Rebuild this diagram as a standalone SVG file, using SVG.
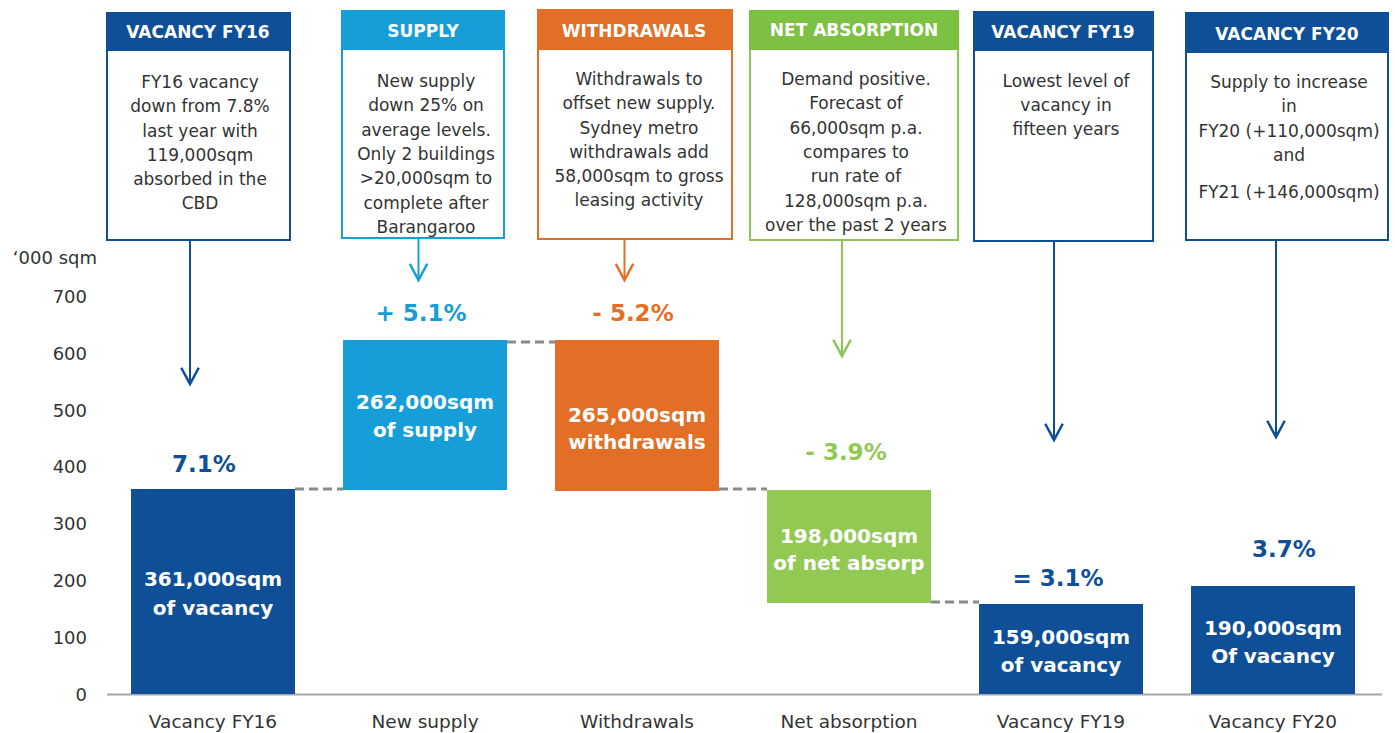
<svg xmlns="http://www.w3.org/2000/svg" width="1395" height="733" viewBox="0 0 1395 733">
<style>
text{font-family:"DejaVu Sans","Noto Sans",sans-serif;}
.hd{font-size:17px;font-weight:bold;fill:#fff;text-anchor:middle;}
.bd{font-size:17px;fill:#333;text-anchor:middle;}
.ax{font-size:18px;fill:#333;text-anchor:end;}
.cat{font-size:18.5px;fill:#333;text-anchor:middle;}
.bt{font-size:20px;font-weight:bold;fill:#fff;text-anchor:middle;}
.pc{font-size:23px;font-weight:bold;text-anchor:middle;}
.dash{stroke:#8a8a8a;stroke-width:3;stroke-dasharray:9 5;fill:none;}
</style>
<defs>
<marker id="mDB" markerUnits="userSpaceOnUse" markerWidth="20" markerHeight="20" refX="8" refY="14" viewBox="0 0 16 16" orient="0"><path d="M1,1 L8,14 L15,1" fill="none" stroke="#0E4F98" stroke-width="2"/></marker>
<marker id="mLB" markerUnits="userSpaceOnUse" markerWidth="20" markerHeight="20" refX="8" refY="14" viewBox="0 0 16 16" orient="0"><path d="M1,1 L8,14 L15,1" fill="none" stroke="#169ED8" stroke-width="2"/></marker>
<marker id="mOR" markerUnits="userSpaceOnUse" markerWidth="20" markerHeight="20" refX="8" refY="14" viewBox="0 0 16 16" orient="0"><path d="M1,1 L8,14 L15,1" fill="none" stroke="#E26F25" stroke-width="2"/></marker>
<marker id="mGR" markerUnits="userSpaceOnUse" markerWidth="20" markerHeight="20" refX="8" refY="14" viewBox="0 0 16 16" orient="0"><path d="M1,1 L8,14 L15,1" fill="none" stroke="#8CC653" stroke-width="2"/></marker>
</defs>
<rect width="1395" height="733" fill="#fff"/>

<g id="axis">
<text x="97" y="264" class="ax">‘000 sqm</text>
<text x="87" y="303" class="ax">700</text>
<text x="87" y="360" class="ax">600</text>
<text x="87" y="417" class="ax">500</text>
<text x="87" y="473" class="ax">400</text>
<text x="87" y="530" class="ax">300</text>
<text x="87" y="587" class="ax">200</text>
<text x="87" y="644" class="ax">100</text>
<text x="87" y="701" class="ax">0</text>
<line x1="107" y1="694.5" x2="1382" y2="694.5" stroke="#a6a6a6" stroke-width="2"/>
</g>

<g id="connectors">
<line x1="190" y1="241" x2="190" y2="384" stroke="#0E4F98" stroke-width="2" marker-end="url(#mDB)"/>
<line x1="418.5" y1="238" x2="418.5" y2="280" stroke="#169ED8" stroke-width="2" marker-end="url(#mLB)"/>
<line x1="624.5" y1="239" x2="624.5" y2="280" stroke="#E26F25" stroke-width="2" marker-end="url(#mOR)"/>
<line x1="842" y1="240" x2="842" y2="356" stroke="#8CC653" stroke-width="2" marker-end="url(#mGR)"/>
<line x1="1054" y1="241" x2="1054" y2="440" stroke="#0E4F98" stroke-width="2" marker-end="url(#mDB)"/>
<line x1="1276" y1="240" x2="1276" y2="437" stroke="#0E4F98" stroke-width="2" marker-end="url(#mDB)"/>
<line x1="295" y1="489" x2="343" y2="489" class="dash"/>
<line x1="507" y1="342" x2="555" y2="342" class="dash"/>
<line x1="719" y1="489" x2="767" y2="489" class="dash"/>
<line x1="931" y1="602" x2="979" y2="602" class="dash"/>
</g>

<g id="box-vacancy-fy16">
<rect x="107" y="13" width="183" height="227" fill="#fff" stroke="#0E4F98" stroke-width="2"/>
<rect x="106" y="12" width="185" height="39" fill="#0E4F98"/>
<text x="198" y="38" class="hd">VACANCY FY16</text>
<text class="bd"><tspan x="200" y="88">FY16 vacancy</tspan><tspan x="200" y="112">down from 7.8%</tspan><tspan x="200" y="137">last year with</tspan><tspan x="200" y="161">119,000sqm</tspan><tspan x="200" y="185">absorbed in the</tspan><tspan x="200" y="209">CBD</tspan></text>
</g>
<g id="box-supply">
<rect x="342" y="11" width="162" height="227" fill="#fff" stroke="#169ED8" stroke-width="2"/>
<rect x="341" y="10" width="164" height="40" fill="#169ED8"/>
<text x="423" y="37" class="hd">SUPPLY</text>
<text class="bd"><tspan x="426" y="87">New supply</tspan><tspan x="426" y="111">down 25% on</tspan><tspan x="426" y="136">average levels.</tspan><tspan x="426" y="160">Only 2 buildings</tspan><tspan x="426" y="184">&gt;20,000sqm to</tspan><tspan x="426" y="209">complete after</tspan><tspan x="426" y="233">Barangaroo</tspan></text>
</g>
<g id="box-withdrawals">
<rect x="538" y="10" width="194" height="229" fill="#fff" stroke="#E26F25" stroke-width="2"/>
<rect x="537" y="9" width="196" height="41" fill="#E26F25"/>
<text x="634" y="37" class="hd">WITHDRAWALS</text>
<text class="bd"><tspan x="639" y="85">Withdrawals to</tspan><tspan x="639" y="109">offset new supply.</tspan><tspan x="639" y="134">Sydney metro</tspan><tspan x="639" y="158">withdrawals add</tspan><tspan x="639" y="182">58,000sqm to gross</tspan><tspan x="639" y="206">leasing activity</tspan></text>
</g>
<g id="box-net-absorption">
<rect x="750" y="11" width="208" height="229" fill="#fff" stroke="#8CC653" stroke-width="2"/>
<rect x="749" y="10" width="210" height="40" fill="#7DC142"/>
<text x="854" y="36" class="hd">NET ABSORPTION</text>
<text class="bd"><tspan x="856" y="85">Demand positive.</tspan><tspan x="856" y="109">Forecast of</tspan><tspan x="856" y="134">66,000sqm p.a.</tspan><tspan x="856" y="158">compares to</tspan><tspan x="856" y="182">run rate of</tspan><tspan x="856" y="207">128,000sqm p.a.</tspan><tspan x="856" y="231">over the past 2 years</tspan></text>
</g>
<g id="box-vacancy-fy19">
<rect x="974" y="12" width="179" height="229" fill="#fff" stroke="#0E4F98" stroke-width="2"/>
<rect x="973" y="11" width="181" height="40" fill="#0E4F98"/>
<text x="1063" y="38" class="hd">VACANCY FY19</text>
<text class="bd"><tspan x="1066" y="87">Lowest level of</tspan><tspan x="1066" y="111">vacancy in</tspan><tspan x="1066" y="135">fifteen years</tspan></text>
</g>
<g id="box-vacancy-fy20">
<rect x="1186" y="13" width="202" height="227" fill="#fff" stroke="#0E4F98" stroke-width="2"/>
<rect x="1185" y="12" width="204" height="41" fill="#0E4F98"/>
<text x="1287" y="40" class="hd">VACANCY FY20</text>
<text class="bd"><tspan x="1289" y="88">Supply to increase</tspan><tspan x="1289" y="112">in</tspan><tspan x="1289" y="137">FY20 (+110,000sqm)</tspan><tspan x="1289" y="161">and</tspan><tspan x="1289" y="198">FY21 (+146,000sqm)</tspan></text>
</g>

<g id="bar-vacancy-fy16">
<rect x="131" y="489" width="164" height="205" fill="#0E4F98"/>
<text x="213" y="586" class="bt">361,000sqm</text>
<text x="213" y="615" class="bt">of vacancy</text>
<text x="204" y="472" class="pc" fill="#0E4F98">7.1%</text>
<text x="213" y="728" class="cat">Vacancy FY16</text>
</g>
<g id="bar-new-supply">
<rect x="343" y="340" width="164" height="150" fill="#169ED8"/>
<text x="425" y="409" class="bt">262,000sqm</text>
<text x="425" y="437" class="bt">of supply</text>
<text x="421" y="321" class="pc" fill="#169ED8">+ 5.1%</text>
<text x="425" y="728" class="cat">New supply</text>
</g>
<g id="bar-withdrawals">
<rect x="555" y="340" width="164" height="151" fill="#E26F25"/>
<text x="637" y="422" class="bt">265,000sqm</text>
<text x="637" y="449" class="bt">withdrawals</text>
<text x="633" y="321" class="pc" fill="#E26F25">- 5.2%</text>
<text x="637" y="728" class="cat">Withdrawals</text>
</g>
<g id="bar-net-absorption">
<rect x="767" y="490" width="164" height="113" fill="#92C953"/>
<text x="849" y="543" class="bt">198,000sqm</text>
<text x="849" y="570" class="bt">of net absorp</text>
<text x="846" y="460" class="pc" fill="#92C953">- 3.9%</text>
<text x="849" y="728" class="cat">Net absorption</text>
</g>
<g id="bar-vacancy-fy19">
<rect x="979" y="604" width="164" height="90" fill="#0E4F98"/>
<text x="1061" y="644" class="bt">159,000sqm</text>
<text x="1061" y="672" class="bt">of vacancy</text>
<text x="1058" y="586" class="pc" fill="#0E4F98">= 3.1%</text>
<text x="1061" y="728" class="cat">Vacancy FY19</text>
</g>
<g id="bar-vacancy-fy20">
<rect x="1191" y="586" width="164" height="108" fill="#0E4F98"/>
<text x="1273" y="635" class="bt">190,000sqm</text>
<text x="1273" y="663" class="bt">Of vacancy</text>
<text x="1284" y="557" class="pc" fill="#0E4F98">3.7%</text>
<text x="1273" y="728" class="cat">Vacancy FY20</text>
</g>
</svg>
